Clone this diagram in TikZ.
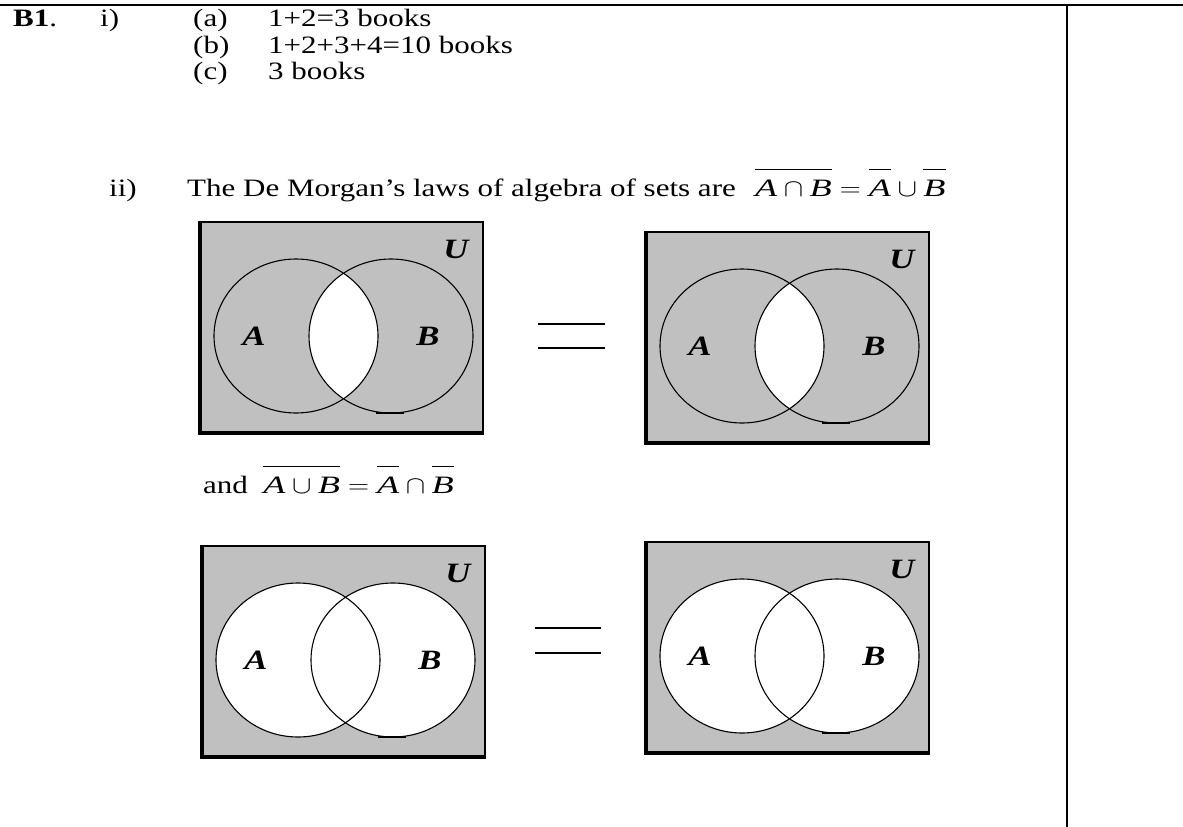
\documentclass[tikz,border=0pt]{standalone}
\usepackage{graphicx}
\usepackage{fontspec}
\setmainfont{Liberation Serif}[FakeStretch=1.24]
\definecolor{vgray}{RGB}{192,192,192}
\newcommand\ovl[1]{\overline{\rule{0pt}{25pt}#1}}
\newcommand\wide[1]{\scalebox{1.17}[1]{#1}}
\tikzset{
  txt/.style={font=\fontsize{25}{27}\selectfont, anchor=base west, inner sep=0pt},
  lbl/.style={font=\fontsize{28}{28}\selectfont\bfseries\itshape, inner sep=0pt},
  circ/.style={draw=black, line width=1.1pt},
  thinb/.style={line width=1.4pt},
  thickb/.style={line width=3.6pt},
  eqbar/.style={line width=1.5pt},
  rulel/.style={line width=2.2pt},
}
% #1,#2 = top-left corner, #3 = name prefix, #4 = 1 lens white / 2 union white
\newcommand\vennbox[4]{%
  \begin{scope}[shift={(#1,#2)}]
    \fill[vgray] (0,0) rectangle (283,211);
    \coordinate (#3ca) at (96,114);
    \coordinate (#3cb) at (191,114);
    \ifnum#4=1
      \begin{scope}
        \clip (#3ca) ellipse [x radius=82, y radius=77];
        \fill[white] (#3cb) ellipse [x radius=82, y radius=77];
      \end{scope}
    \else
      \fill[white] (#3ca) ellipse [x radius=82, y radius=77];
      \fill[white] (#3cb) ellipse [x radius=82, y radius=77];
    \fi
    \draw[circ] (#3ca) ellipse [x radius=82, y radius=77];
    \draw[circ] (#3cb) ellipse [x radius=82, y radius=77];
    \draw[line width=2.6pt] (176,191) -- (204,191);
    \node[lbl] (#3u) at (256,27) {U};
    \node[lbl] (#3a) at (54,114) {A};
    \node[lbl] (#3b) at (228,114) {B};
    \draw[thinb] (0,0) rectangle (283,211);
    \draw[thickb] (0,-0.7) -- (0,211) -- (283.7,211);
  \end{scope}}
\begin{document}
\begin{tikzpicture}[x=1pt,y=-1pt]
\useasboundingbox (0,0) rectangle (1183,827);
\fill[white] (0,0) rectangle (1183,827);
% table rules
\coordinate (tl) at (0,5);
\coordinate (tr) at (1183,5);
\coordinate (vt) at (1067,5);
\coordinate (vb) at (1067,827);
\draw[rulel] (tl) -- (tr);
\draw[rulel] (vt) -- (vb);
% text
\node[txt] (b1) at (13,27) {\textbf{B1}.};
\node[txt] (i) at (100,27) {i)};
\node[txt] (ia) at (193,27) {(a)};
\node[txt] (iat) at (268,27) {1+2=3 books};
\node[txt] (ib) at (193,53) {(b)};
\node[txt] (ibt) at (268,53) {1+2+3+4=10 books};
\node[txt] (ic) at (193,79) {(c)};
\node[txt] (ict) at (268,79) {3 books};
\node[txt] (ii) at (109,196) {ii)};
\node[txt] (iit) at (187,196) {The De Morgan’s laws of algebra of sets are};
\node[txt] (iif) at (755,196) {\wide{$\ovl{\textit{A}\cap\textit{B}}=\ovl{\textit{A}}\cup\ovl{\textit{B}}$}};
\node[txt] (and) at (203,493) {and\ \ \wide{$\ovl{\textit{A}\cup\textit{B}}=\ovl{\textit{A}}\cap\ovl{\textit{B}}$}};
% venn diagrams
\vennbox{200}{222}{v1}{1}
\vennbox{646}{232}{v2}{1}
\vennbox{202}{546}{v3}{2}
\vennbox{646}{542}{v4}{2}
% equal signs
\coordinate (e1a) at (538,324); \coordinate (e1b) at (605,324);
\coordinate (e1c) at (538,348); \coordinate (e1d) at (605,348);
\draw[eqbar] (e1a) -- (e1b);
\draw[eqbar] (e1c) -- (e1d);
\coordinate (e2a) at (535,628); \coordinate (e2b) at (601,628);
\coordinate (e2c) at (535,653); \coordinate (e2d) at (601,653);
\draw[eqbar] (e2a) -- (e2b);
\draw[eqbar] (e2c) -- (e2d);
\end{tikzpicture}
\end{document}
